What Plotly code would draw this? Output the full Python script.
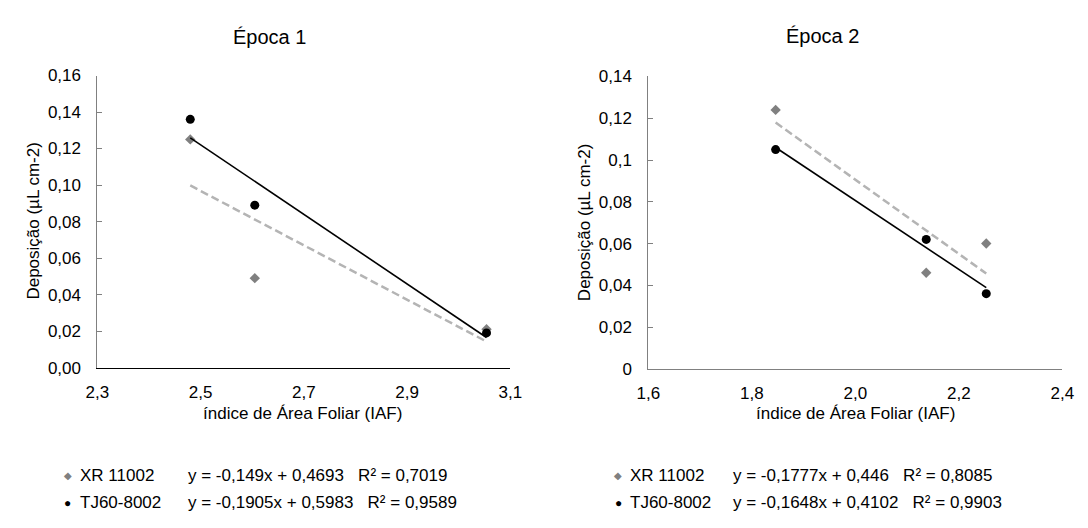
import plotly.graph_objects as go

# ---- data ----
iaf_epoca1 = [2.48, 2.605, 3.054]
xr_epoca1 = [0.125, 0.049, 0.021]
tj_epoca1 = [0.136, 0.089, 0.019]

iaf_epoca2 = [1.846, 2.137, 2.253]
xr_epoca2 = [0.124, 0.046, 0.060]
tj_epoca2 = [0.105, 0.062, 0.036]

# trendline coefficients (slope, intercept) as printed on the chart
xr_fit1 = [-0.149, 0.4693]
tj_fit1 = [-0.1905, 0.5983]
xr_fit2 = [-0.1777, 0.446]
tj_fit2 = [-0.1648, 0.4102]

eq_xr1 = "y = -0,149x + 0,4693\u00a0\u00a0\u00a0R² = 0,7019"
eq_tj1 = "y = -0,1905x + 0,5983\u00a0\u00a0\u00a0R² = 0,9589"
eq_xr2 = "y = -0,1777x + 0,446\u00a0\u00a0\u00a0R² = 0,8085"
eq_tj2 = "y = -0,1648x + 0,4102\u00a0\u00a0\u00a0R² = 0,9903"

series_names = ["XR 11002", "TJ60-8002"]

y1_ticks = [0, 0.02, 0.04, 0.06, 0.08, 0.10, 0.12, 0.14, 0.16]
y1_text = ["0,00", "0,02", "0,04", "0,06", "0,08", "0,10", "0,12", "0,14", "0,16"]
y2_ticks = [0, 0.02, 0.04, 0.06, 0.08, 0.10, 0.12, 0.14]
y2_text = ["0", "0,02", "0,04", "0,06", "0,08", "0,1", "0,12", "0,14"]
x1_ticks = [2.3, 2.5, 2.7, 2.9, 3.1]
x1_text = ["2,3", "2,5", "2,7", "2,9", "3,1"]
x2_ticks = [1.6, 1.8, 2.0, 2.2, 2.4]
x2_text = ["1,6", "1,8", "2,0", "2,2", "2,4"]

W, H = 1088, 528
FONT = "Liberation Sans, Arial, sans-serif"
XR_MARK = "#808080"
XR_LINE = "#B4B4B4"
TJ_COL = "#000000"


def line_pts(xs, fit):
    x0, x1 = min(xs), max(xs)
    return [x0, x1], [fit[0] * x0 + fit[1], fit[0] * x1 + fit[1]]


fig = go.Figure()

for xs, xr, tj, fxr, ftj, xa, ya in [
    (iaf_epoca1, xr_epoca1, tj_epoca1, xr_fit1, tj_fit1, "x", "y"),
    (iaf_epoca2, xr_epoca2, tj_epoca2, xr_fit2, tj_fit2, "x2", "y2"),
]:
    fig.add_trace(go.Scatter(x=xs, y=xr, mode="markers", name=series_names[0],
                             marker=dict(symbol="diamond", size=8, color=XR_MARK),
                             xaxis=xa, yaxis=ya, showlegend=False))
    fig.add_trace(go.Scatter(x=xs, y=tj, mode="markers", name=series_names[1],
                             marker=dict(symbol="circle", size=9, color=TJ_COL),
                             xaxis=xa, yaxis=ya, showlegend=False))
    lx, ly = line_pts(xs, fxr)
    fig.add_trace(go.Scatter(x=lx, y=ly, mode="lines",
                             line=dict(color=XR_LINE, width=2.5, dash="8px,4px"),
                             xaxis=xa, yaxis=ya, showlegend=False, hoverinfo="skip"))
    lx, ly = line_pts(xs, ftj)
    fig.add_trace(go.Scatter(x=lx, y=ly, mode="lines",
                             line=dict(color=TJ_COL, width=1.6),
                             xaxis=xa, yaxis=ya, showlegend=False, hoverinfo="skip"))


def px_x(p):
    return p / W


def px_y(p):
    return 1 - p / H


common = dict(showgrid=False, zeroline=False, showline=True, linewidth=1,
              tickfont=dict(family=FONT, size=17, color="#000000"))

fig.update_layout(
    width=W, height=H,
    margin=dict(l=0, r=0, t=0, b=0),
    paper_bgcolor="white", plot_bgcolor="white",
    showlegend=False,
    xaxis=dict(domain=[px_x(87.3), px_x(509.5)], range=[2.3, 3.1],
               tickvals=x1_ticks, ticktext=x1_text, ticks="",
               linecolor="#000000", ticklabelstandoff=9, **common),
    yaxis=dict(domain=[px_y(372), px_y(69)], range=[0, 0.16],
               tickvals=y1_ticks, ticktext=y1_text, ticks="inside", ticklen=5,
               tickcolor="#808080", linecolor="#808080", ticklabelstandoff=12,
               **common),
    xaxis2=dict(domain=[px_x(650.7), px_x(1074)], range=[1.6, 2.4],
                tickvals=x2_ticks, ticktext=x2_text, ticks="",
                linecolor="#808080", anchor="y2", ticklabelstandoff=9, **common),
    yaxis2=dict(domain=[px_y(373.3), px_y(70)], range=[0, 0.14],
                tickvals=y2_ticks, ticktext=y2_text, ticks="inside", ticklen=5,
                tickcolor="#808080", linecolor="#808080", anchor="x2",
                ticklabelstandoff=12, **common),
)


def ann(text, x, y, size, xanchor="center", angle=0, color="#000000"):
    fig.add_annotation(text=text, x=px_x(x), y=px_y(y), xref="paper", yref="paper",
                       xanchor=xanchor, yanchor="middle", showarrow=False,
                       textangle=angle, font=dict(family=FONT, size=size, color=color))


# titles
ann("Época 1", 263, 29, 20)
ann("Época 2", 829, 28, 20)
# axis titles
ann("índice de Área Foliar (IAF)", 297, 420, 17)
ann("índice de Área Foliar (IAF)", 863, 420, 17)
ann("Deposição (µL cm-2)", 22, 220, 17, angle=-90)
ann("Deposição (µL cm-2)", 585, 221, 17, angle=-90)

# legends
for (mx, tx, ex, rows) in [
    (57, 67, 178, [(484, eq_xr1), (512, eq_tj1)]),
    (620, 630, 735, [(484, eq_xr2), (512, eq_tj2)]),
]:
    ann("◆", mx, rows[0][0], 10, color=XR_MARK)
    ann(series_names[0], tx, rows[0][0], 17, xanchor="left")
    ann(rows[0][1], ex, rows[0][0], 17, xanchor="left")
    ann("●", mx, rows[1][0], 12, color=TJ_COL)
    ann(series_names[1], tx, rows[1][0], 17, xanchor="left")
    ann(rows[1][1], ex, rows[1][0], 17, xanchor="left")

fig.write_html("out.html")
